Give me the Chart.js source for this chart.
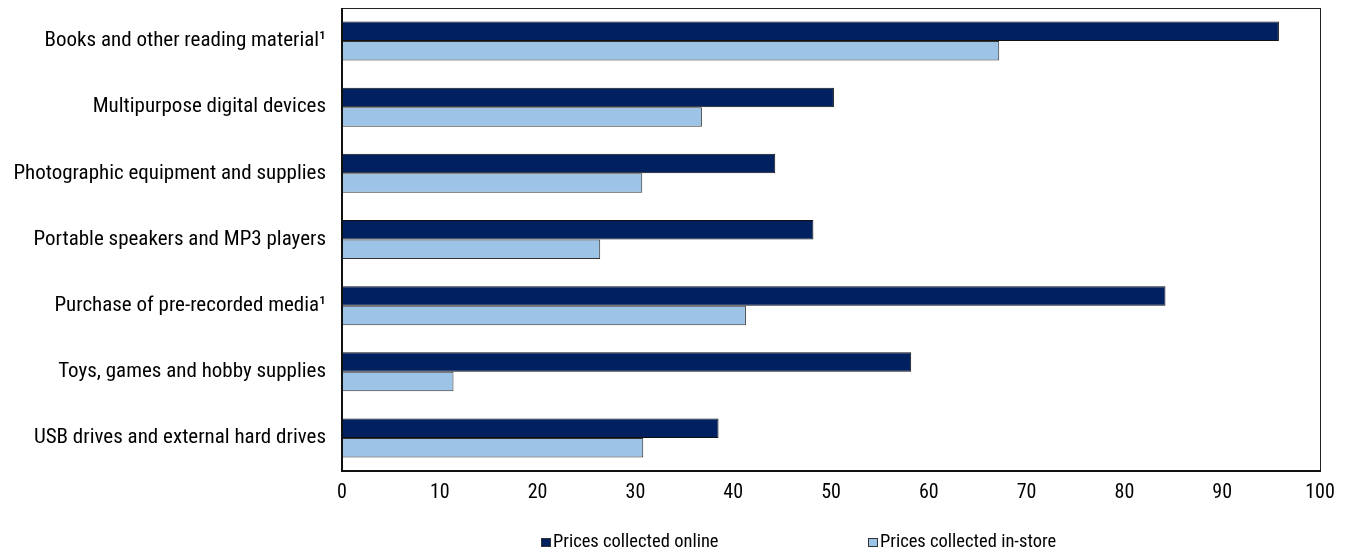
<!DOCTYPE html>
<html>
<head>
<meta charset="utf-8">
<script src="https://cdn.jsdelivr.net/npm/chart.js@4.4.1/dist/chart.umd.min.js"></script>
<style>
  html, body { margin: 0; padding: 0; background: #ffffff; }
  #wrap { width: 1348px; height: 552px; position: relative; }
</style>
</head>
<body>
<div id="wrap"><canvas id="chart" width="1348" height="552"></canvas></div>
<script>
// Product categories (top to bottom)
const categories = [
  'Books and other reading material\u00B9',
  'Multipurpose digital devices',
  'Photographic equipment and supplies',
  'Portable speakers and MP3 players',
  'Purchase of pre-recorded media\u00B9',
  'Toys, games and hobby supplies',
  'USB drives and external hard drives'
];

// Series values
const pricesOnline  = [95.8, 50.3, 44.3, 48.2, 84.2, 58.2, 38.5];
const pricesInStore = [67.2, 36.8, 30.7, 26.4, 41.3, 11.4, 30.8];

// Axis ticks
const xTicks = [0, 10, 20, 30, 40, 50, 60, 70, 80, 90, 100];

const seriesNames = ['Prices collected online', 'Prices collected in-store'];

const FONT = '"Liberation Sans Narrow", "Arial Narrow", "Roboto Condensed", "Liberation Sans", sans-serif';

// Full frame around the plot area
const framePlugin = {
  id: 'frame',
  afterDatasetsDraw(chart) {
    const { ctx, chartArea: a } = chart;
    ctx.save();
    ctx.strokeStyle = '#222222';
    ctx.lineWidth = 1;
    ctx.strokeRect(Math.round(a.left) + 0.5, Math.round(a.top) + 0.5,
                   Math.round(a.right - a.left), Math.round(a.bottom - a.top));
    ctx.lineWidth = 2;
    ctx.strokeStyle = '#111111';
    ctx.beginPath();
    ctx.moveTo(Math.round(a.left), Math.round(a.top));
    ctx.lineTo(Math.round(a.left), Math.round(a.bottom));
    ctx.lineTo(Math.round(a.right) + 1, Math.round(a.bottom));
    ctx.stroke();
    ctx.restore();
  }
};

// Legend drawn along the bottom edge, items spaced widely
const bottomLegend = {
  id: 'bottomLegend',
  afterDraw(chart) {
    const { ctx } = chart;
    const starts = [541, 868];
    const y = 541;
    ctx.save();
    ctx.font = '18.5px ' + FONT;
    ctx.textBaseline = 'middle';
    ctx.textAlign = 'left';
    chart.data.datasets.forEach((ds, i) => {
      const x = starts[i];
      ctx.fillStyle = ds.backgroundColor;
      ctx.fillRect(x, y - 3, 10, 9);
      ctx.strokeStyle = '#333333';
      ctx.lineWidth = 1;
      ctx.strokeRect(x + 0.5, y - 2.5, 9, 8);
      ctx.fillStyle = '#000000';
      ctx.fillText(ds.label, x + 12, y + 1);
    });
    ctx.restore();
  }
};

new Chart(document.getElementById('chart'), {
  type: 'bar',
  data: {
    labels: categories,
    datasets: [
      {
        label: seriesNames[0],
        data: pricesOnline,
        backgroundColor: '#002060',
        borderColor: '#111111',
        borderWidth: 1,
        borderSkipped: false,
        categoryPercentage: 0.59,
        barPercentage: 1.0
      },
      {
        label: seriesNames[1],
        data: pricesInStore,
        backgroundColor: '#9DC3E6',
        borderColor: '#333333',
        borderWidth: 1,
        borderSkipped: false,
        categoryPercentage: 0.59,
        barPercentage: 1.0
      }
    ]
  },
  options: {
    indexAxis: 'y',
    responsive: false,
    animation: false,
    layout: { padding: { top: 8, right: 28, left: 0, bottom: 0 } },
    plugins: {
      legend: { display: false },
      tooltip: { enabled: false }
    },
    scales: {
      x: {
        min: xTicks[0],
        max: xTicks[xTicks.length - 1],
        afterBuildTicks(scale) {
          scale.ticks = xTicks.map(v => ({ value: v }));
        },
        afterFit(scale) { scale.height = 81; },
        grid: { display: false, drawTicks: false },
        border: { display: false },
        ticks: {
          color: '#000000',
          padding: 10,
          maxRotation: 0,
          font: { family: FONT, size: 20 }
        }
      },
      y: {
        afterFit(scale) {
          scale.width = 342;
          scale.paddingTop = 0;
          scale.paddingBottom = 0;
        },
        grid: { display: false, drawTicks: false },
        border: { display: false },
        ticks: {
          color: '#000000',
          padding: 16,
          font: { family: FONT, size: 21 }
        }
      }
    }
  },
  plugins: [framePlugin, bottomLegend]
});
</script>
</body>
</html>
